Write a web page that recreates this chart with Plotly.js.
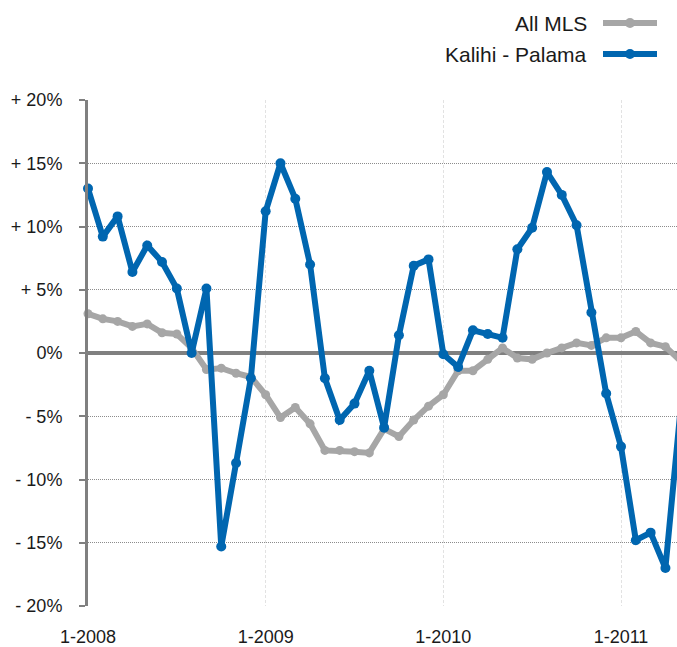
<!DOCTYPE html>
<html>
<head>
<meta charset="utf-8">
<script src="https://cdn.plot.ly/plotly-3.0.1.min.js"></script>
<style>
  html, body { margin: 0; padding: 0; background: #fff; }
  #chart { width: 677px; height: 647px; }
</style>
</head>
<body>
<div id="chart"></div>
<script>
// ---------------- data ----------------
var years = [2008, 2009, 2010, 2011];
var months = [];
for (var y = 0; y < years.length; y++) {
  for (var m = 1; m <= 12; m++) months.push(m + '-' + years[y]);
}
months = months.slice(0, 41); // Jan 2008 .. May 2011

var allMls = [3.1, 2.7, 2.5, 2.1, 2.3, 1.6, 1.5, 0.4, -1.3, -1.2, -1.6, -1.9,
  -3.3, -5.1, -4.3, -5.6, -7.7, -7.7, -7.8, -7.9, -6.0, -6.6, -5.3, -4.2,
  -3.3, -1.4, -1.4, -0.5, 0.4, -0.4, -0.5, 0.0, 0.4, 0.8, 0.6, 1.2,
  1.2, 1.7, 0.8, 0.5, -0.6];

var kalihi = [13.0, 9.2, 10.8, 6.4, 8.5, 7.2, 5.1, 0.0, 5.1, -15.3, -8.7, -2.0,
  11.2, 15.0, 12.2, 7.0, -2.0, -5.3, -4.0, -1.4, -5.9, 1.4, 6.9, 7.4,
  -0.1, -1.1, 1.8, 1.5, 1.2, 8.2, 9.9, 14.3, 12.5, 10.1, 3.2, -3.2,
  -7.4, -14.8, -14.2, -17.0, -4.7];

var xTicks = ['1-2008', '1-2009', '1-2010', '1-2011'];
var yTickVals = [-20, -15, -10, -5, 0, 5, 10, 15, 20];
var yTickText = ['- 20%', '- 15%', '- 10%', '- 5%', '0%', '+ 5%', '+ 10%', '+ 15%', '+ 20%'];

var seriesNames = ['All MLS', 'Kalihi - Palama'];
var seriesColors = ['#a6a6a6', '#0066b0'];

// ---------------- traces ----------------
var traceMls = {
  x: months, y: allMls,
  type: 'scatter', mode: 'lines+markers',
  name: seriesNames[0],
  line: {color: seriesColors[0], width: 6},
  marker: {color: seriesColors[0], size: 9},
  cliponaxis: false
};

var traceKalihi = {
  x: months, y: kalihi,
  type: 'scatter', mode: 'lines+markers',
  name: seriesNames[1],
  line: {color: seriesColors[1], width: 6},
  marker: {color: seriesColors[1], size: 10},
  cliponaxis: false
};

// ---------------- layout ----------------
var L = 88, R = 677, T = 100, B = 606;
function px(x) { return (x - L) / (R - L); }
function py(y) { return (B - y) / (B - T); }

var legendRows = [23, 54];
var shapes = [], annotations = [];
for (var i = 0; i < seriesNames.length; i++) {
  shapes.push({type: 'line', xref: 'paper', yref: 'paper',
    x0: px(603), x1: px(657), y0: py(legendRows[i]), y1: py(legendRows[i]),
    line: {color: seriesColors[i], width: 6}});
  shapes.push({type: 'circle', xref: 'paper', yref: 'paper',
    x0: px(625), x1: px(635), y0: py(legendRows[i] - 5), y1: py(legendRows[i] + 5),
    fillcolor: seriesColors[i], line: {width: 0}});
  annotations.push({xref: 'paper', yref: 'paper', x: px(589), y: py(legendRows[i]),
    xanchor: 'right', yanchor: 'middle', showarrow: false, text: seriesNames[i],
    font: {size: 21, color: '#1a1a1a'}});
}

var layout = {
  width: 677, height: 647,
  margin: {l: L, r: 0, t: T, b: 647 - B},
  paper_bgcolor: '#fff', plot_bgcolor: '#fff',
  showlegend: false,
  font: {family: 'Liberation Sans, Arial, sans-serif', size: 18, color: '#1a1a1a'},
  xaxis: {
    type: 'category',
    range: [0, (R - L) / ((621 - L) / 36)],
    tickvals: xTicks, ticktext: xTicks,
    showgrid: true, gridcolor: '#e2e2e2', griddash: '3px,2px', gridwidth: 1,
    showline: false, zeroline: false, ticks: '',
    ticklabelstandoff: 18,
    tickfont: {size: 18}
  },
  yaxis: {
    range: [-20, 20],
    tickvals: yTickVals, ticktext: yTickText,
    showgrid: true, gridcolor: '#8c8c8c', griddash: '1px,1px', gridwidth: 1,
    zeroline: true, zerolinecolor: '#808080', zerolinewidth: 4,
    showline: true, linecolor: '#808080', linewidth: 3,
    ticks: 'outside', ticklen: 6, tickwidth: 2, tickcolor: '#808080',
    ticklabelstandoff: 13,
    tickfont: {size: 18}
  },
  shapes: shapes,
  annotations: annotations
};

Plotly.newPlot('chart', [traceMls, traceKalihi], layout, {displayModeBar: false, staticPlot: true});
</script>
</body>
</html>
